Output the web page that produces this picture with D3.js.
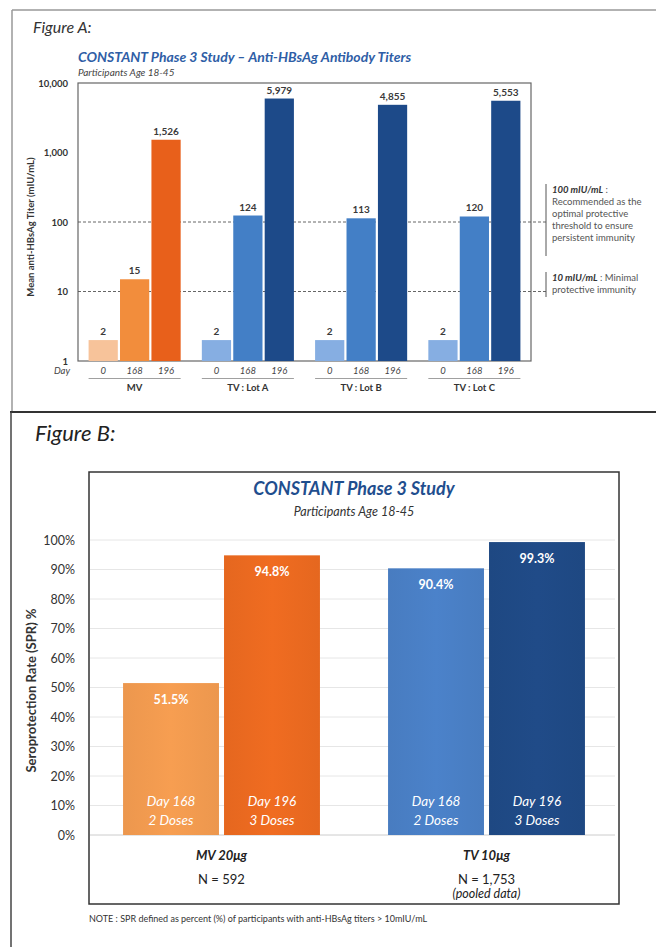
<!DOCTYPE html>
<html><head><meta charset="utf-8">
<script src="https://cdn.jsdelivr.net/npm/d3@7"></script>
<style>
html,body{margin:0;padding:0;background:#fff;}
svg{display:block;font-family:Lato,"Open Sans",sans-serif;}
</style></head><body>
<svg id="c" width="656" height="947"></svg>
<script>
// ---------- Figure A data ----------
const groupsA = ["MV", "TV : Lot A", "TV : Lot B", "TV : Lot C"];
const daysA = ["0", "168", "196"];
const titerMV = [2, 15, 1526];
const titerLotA = [2, 124, 5979];
const titerLotB = [2, 113, 4855];
const titerLotC = [2, 120, 5553];
const yTicksA = [1, 10, 100, 1000, 10000];
const thresholdsA = [100, 10];
const colorsMV = ["#f7c39a", "#f28d3c", "#e8601b"];
const colorsTV = ["#86aee2", "#437fc6", "#1d4a89"];

// ---------- Figure B data ----------
const groupsB = ["MV 20μg", "TV 10μg"];
const groupNB = ["N = 592", "N = 1,753"];
const groupNoteB = ["", "(pooled data)"];
const timepointsB = ["Day 168", "Day 196"];
const dosesB = ["2 Doses", "3 Doses"];
const sprMV = [51.5, 94.8];
const sprTV = [90.4, 99.3];
const yTicksB = [0, 10, 20, 30, 40, 50, 60, 70, 80, 90, 100];
const colorsB_MV = ["#f39b50", "#ec6a20"];
const colorsB_TV = ["#4a80c6", "#1f4a86"];

const svg = d3.select("#c");
svg.append("rect").attr("width", 656).attr("height", 947).attr("fill", "#fff");
const defs = svg.append("defs");
function grad(id, c) {
  const g = defs.append("linearGradient").attr("id", id).attr("x1", "0").attr("x2", "1").attr("y1", "0").attr("y2", "0");
  const dark = d3.color(c).darker(0.08), light = d3.color(c).brighter(0.05);
  g.append("stop").attr("offset", "0%").attr("stop-color", dark);
  g.append("stop").attr("offset", "50%").attr("stop-color", light);
  g.append("stop").attr("offset", "100%").attr("stop-color", dark);
  return `url(#${id})`;
}

// ---------- Frames ----------
svg.append("line").attr("x1", 12).attr("x2", 656).attr("y1", 10).attr("y2", 10).attr("stroke", "#999").attr("stroke-width", 1.5);
svg.append("line").attr("x1", 12).attr("x2", 12).attr("y1", 10).attr("y2", 412).attr("stroke", "#999").attr("stroke-width", 1.5);
svg.append("line").attr("x1", 10).attr("x2", 656).attr("y1", 412).attr("y2", 412).attr("stroke", "#333").attr("stroke-width", 2);
svg.append("line").attr("x1", 11).attr("x2", 11).attr("y1", 412).attr("y2", 947).attr("stroke", "#444").attr("stroke-width", 1.5);

// ================= FIGURE A =================
const A = {left: 78, right: 531, top: 83, bottom: 361};
svg.append("text").attr("x", 33).attr("y", 33).attr("font-size", 16).attr("font-style", "italic")
  .attr("fill", "#333").text("Figure A:");
svg.append("text").attr("x", 78).attr("y", 62).attr("font-size", 14).attr("font-style", "italic")
  .attr("font-weight", "bold").attr("fill", "#2f5ea6").text("CONSTANT Phase 3 Study – Anti-HBsAg Antibody Titers");
svg.append("text").attr("x", 78).attr("y", 76).attr("font-size", 10).attr("font-style", "italic")
  .attr("fill", "#444").text("Participants Age 18-45");

const yA = d3.scaleLog().domain([1, 10000]).range([A.bottom, A.top]);
const xA = d3.scaleBand().domain(groupsA).range([A.left, A.right]).paddingInner(0.187).paddingOuter(0.0935);
const xAin = d3.scaleBand().domain(daysA).range([0, xA.bandwidth()]).paddingInner(0.07);

// plot frame
svg.append("rect").attr("x", A.left).attr("y", A.top).attr("width", A.right - A.left).attr("height", A.bottom - A.top)
  .attr("fill", "none").attr("stroke", "#666").attr("stroke-width", 1.2);

// y axis
const axA = svg.append("g").attr("transform", `translate(${A.left},0)`)
  .call(d3.axisLeft(yA).tickValues(yTicksA).tickFormat(d3.format(",")).tickSize(0).tickPadding(10));
axA.select(".domain").remove();
axA.selectAll("text").attr("font-size", 9.5).attr("font-weight", "bold").attr("fill", "#333")
  .attr("font-family", "Lato, sans-serif");

svg.append("text").attr("transform", `translate(34,${(A.top + A.bottom) / 2 + 5}) rotate(-90)`)
  .attr("text-anchor", "middle").attr("font-size", 9.5).attr("font-weight", "bold").attr("fill", "#333")
  .text("Mean anti-HBsAg  Titer (mIU/mL)");

// threshold dashed lines
svg.selectAll(".thr").data(thresholdsA).enter().append("line")
  .attr("x1", A.left).attr("x2", 548).attr("y1", d => yA(d)).attr("y2", d => yA(d))
  .attr("stroke", "#555").attr("stroke-width", 0.9).attr("stroke-dasharray", "3,2");

// bars
const dataA = [titerMV, titerLotA, titerLotB, titerLotC];
groupsA.forEach((g, gi) => {
  const cols = gi === 0 ? colorsMV : colorsTV;
  const gx = xA(g);
  const gg = svg.append("g").attr("transform", `translate(${gx},0)`);
  gg.selectAll("rect").data(dataA[gi]).enter().append("rect")
    .attr("x", (d, i) => xAin(daysA[i])).attr("width", xAin.bandwidth())
    .attr("y", d => yA(d)).attr("height", d => A.bottom - yA(d))
    .attr("fill", (d, i) => cols[i]);
  gg.selectAll("text.v").data(dataA[gi]).enter().append("text").attr("class", "v")
    .attr("x", (d, i) => xAin(daysA[i]) + xAin.bandwidth() / 2).attr("y", d => yA(d) - 5)
    .attr("text-anchor", "middle").attr("font-size", 10).attr("font-weight", "bold").attr("fill", "#3a3a3a")
    .text(d => d3.format(",")(d));
  gg.selectAll("text.d").data(daysA).enter().append("text").attr("class", "d")
    .attr("x", d => xAin(d) + xAin.bandwidth() / 2).attr("y", 374)
    .attr("text-anchor", "middle").attr("font-size", 9.5).attr("font-style", "italic").attr("fill", "#444")
    .text(d => d);
  gg.append("line").attr("x1", 0).attr("x2", xA.bandwidth()).attr("y1", 378.5).attr("y2", 378.5)
    .attr("stroke", "#888").attr("stroke-width", 0.8);
  gg.append("text").attr("x", xA.bandwidth() / 2).attr("y", 391).attr("text-anchor", "middle")
    .attr("font-size", 9.5).attr("font-weight", "bold").attr("fill", "#333").text(g);
});
svg.append("text").attr("x", 62).attr("y", 374).attr("text-anchor", "middle").attr("font-size", 9.5)
  .attr("font-style", "italic").attr("fill", "#444").text("Day");

// annotations
svg.append("line").attr("x1", 546).attr("x2", 546).attr("y1", 184).attr("y2", 256).attr("stroke", "#555").attr("stroke-width", 1);
const ann1 = svg.append("text").attr("x", 552).attr("y", 193).attr("font-size", 9.5).attr("fill", "#555");
ann1.append("tspan").attr("font-weight", "bold").attr("font-style", "italic").attr("fill", "#333").text("100 mIU/mL");
ann1.append("tspan").text(" :");
["Recommended as the", "optimal protective", "threshold to ensure", "persistent immunity"].forEach((t, i) => {
  svg.append("text").attr("x", 552).attr("y", 205 + i * 12).attr("font-size", 9.5).attr("fill", "#555").text(t);
});
svg.append("line").attr("x1", 546).attr("x2", 546).attr("y1", 272).attr("y2", 297).attr("stroke", "#555").attr("stroke-width", 1);
const ann2 = svg.append("text").attr("x", 552).attr("y", 281).attr("font-size", 9.5).attr("fill", "#555");
ann2.append("tspan").attr("font-weight", "bold").attr("font-style", "italic").attr("fill", "#333").text("10 mIU/mL");
ann2.append("tspan").text(" : Minimal");
svg.append("text").attr("x", 552).attr("y", 293).attr("font-size", 9.5).attr("fill", "#555").text("protective immunity");

// ================= FIGURE B =================
const B = {left: 89, right: 619, top: 472, bottom: 904, y0: 835, y100: 540};
svg.append("text").attr("x", 35).attr("y", 441).attr("font-size", 22).attr("font-style", "italic")
  .attr("fill", "#222").text("Figure B:");
svg.append("rect").attr("x", B.left).attr("y", B.top).attr("width", B.right - B.left).attr("height", B.bottom - B.top)
  .attr("fill", "none").attr("stroke", "#333").attr("stroke-width", 1.5);
const cxB = (B.left + B.right) / 2;
svg.append("text").attr("x", cxB).attr("y", 495).attr("text-anchor", "middle").attr("font-size", 18)
  .attr("font-weight", "bold").attr("font-style", "italic").attr("fill", "#1f4e8e").text("CONSTANT Phase 3 Study");
svg.append("text").attr("x", cxB).attr("y", 516).attr("text-anchor", "middle").attr("font-size", 12.5)
  .attr("font-style", "italic").attr("fill", "#333").text("Participants Age 18-45");

const yB = d3.scaleLinear().domain([0, 100]).range([B.y0, B.y100]);
const xB = d3.scaleBand().domain(groupsB).range([B.left, B.right]).paddingInner(0.257).paddingOuter(0.1285);
const xBin = d3.scaleBand().domain(timepointsB).range([0, xB.bandwidth()]).paddingInner(0.05);

// grid
svg.selectAll(".gb").data(yTicksB).enter().append("line")
  .attr("x1", B.left + 1).attr("x2", B.right - 4).attr("y1", d => yB(d)).attr("y2", d => yB(d))
  .attr("stroke", d => d === 0 ? "#ccc" : "#e6e6e6").attr("stroke-width", 1);

const axB = svg.append("g").attr("transform", `translate(${B.left},0)`)
  .call(d3.axisLeft(yB).tickValues(yTicksB).tickFormat(d => d + "%").tickSize(0).tickPadding(14));
axB.select(".domain").remove();
axB.selectAll("text").attr("font-size", 12.5).attr("fill", "#333").attr("font-family", "Lato, sans-serif");

svg.append("text").attr("transform", `translate(36,${(B.y0 + B.y100) / 2 + 3}) rotate(-90)`)
  .attr("text-anchor", "middle").attr("font-size", 13).attr("font-weight", "bold").attr("fill", "#333")
  .text("Seroprotection Rate (SPR) %");

const dataB = [sprMV, sprTV];
groupsB.forEach((g, gi) => {
  const cols = gi === 0 ? colorsB_MV : colorsB_TV;
  const gg = svg.append("g").attr("transform", `translate(${xB(g)},0)`);
  gg.selectAll("rect").data(dataB[gi]).enter().append("rect")
    .attr("x", (d, i) => xBin(timepointsB[i])).attr("width", xBin.bandwidth())
    .attr("y", d => yB(d)).attr("height", d => yB(0) - yB(d))
    .attr("fill", (d, i) => grad(`gB${gi}${i}`, cols[i]));
  gg.selectAll("text.v").data(dataB[gi]).enter().append("text").attr("class", "v")
    .attr("x", (d, i) => xBin(timepointsB[i]) + xBin.bandwidth() / 2).attr("y", d => yB(d) + 21)
    .attr("text-anchor", "middle").attr("font-size", 12.5).attr("font-weight", "bold").attr("fill", "#fff")
    .text(d => d3.format(".1f")(d) + "%");
  timepointsB.forEach((t, i) => {
    const cx = xBin(t) + xBin.bandwidth() / 2;
    gg.append("text").attr("x", cx).attr("y", 806).attr("text-anchor", "middle").attr("font-size", 13.5)
      .attr("font-style", "italic").attr("fill", "#fff").text(t);
    gg.append("text").attr("x", cx).attr("y", 825).attr("text-anchor", "middle").attr("font-size", 13.5)
      .attr("font-style", "italic").attr("fill", "#fff").text(dosesB[i]);
  });
  const c = xB.bandwidth() / 2;
  gg.append("text").attr("x", c).attr("y", 860).attr("text-anchor", "middle").attr("font-size", 13)
    .attr("font-weight", "bold").attr("font-style", "italic").attr("fill", "#222").text(g);
  gg.append("text").attr("x", c).attr("y", 884).attr("text-anchor", "middle").attr("font-size", 13)
    .attr("fill", "#222").text(groupNB[gi]);
  if (groupNoteB[gi]) gg.append("text").attr("x", c).attr("y", 898).attr("text-anchor", "middle").attr("font-size", 12.5)
    .attr("font-style", "italic").attr("fill", "#222").text(groupNoteB[gi]);
});

svg.append("text").attr("x", B.left).attr("y", 922).attr("font-size", 9).attr("fill", "#333")
  .text("NOTE : SPR defined as percent (%) of participants with anti-HBsAg titers > 10mIU/mL");
</script></body></html>
